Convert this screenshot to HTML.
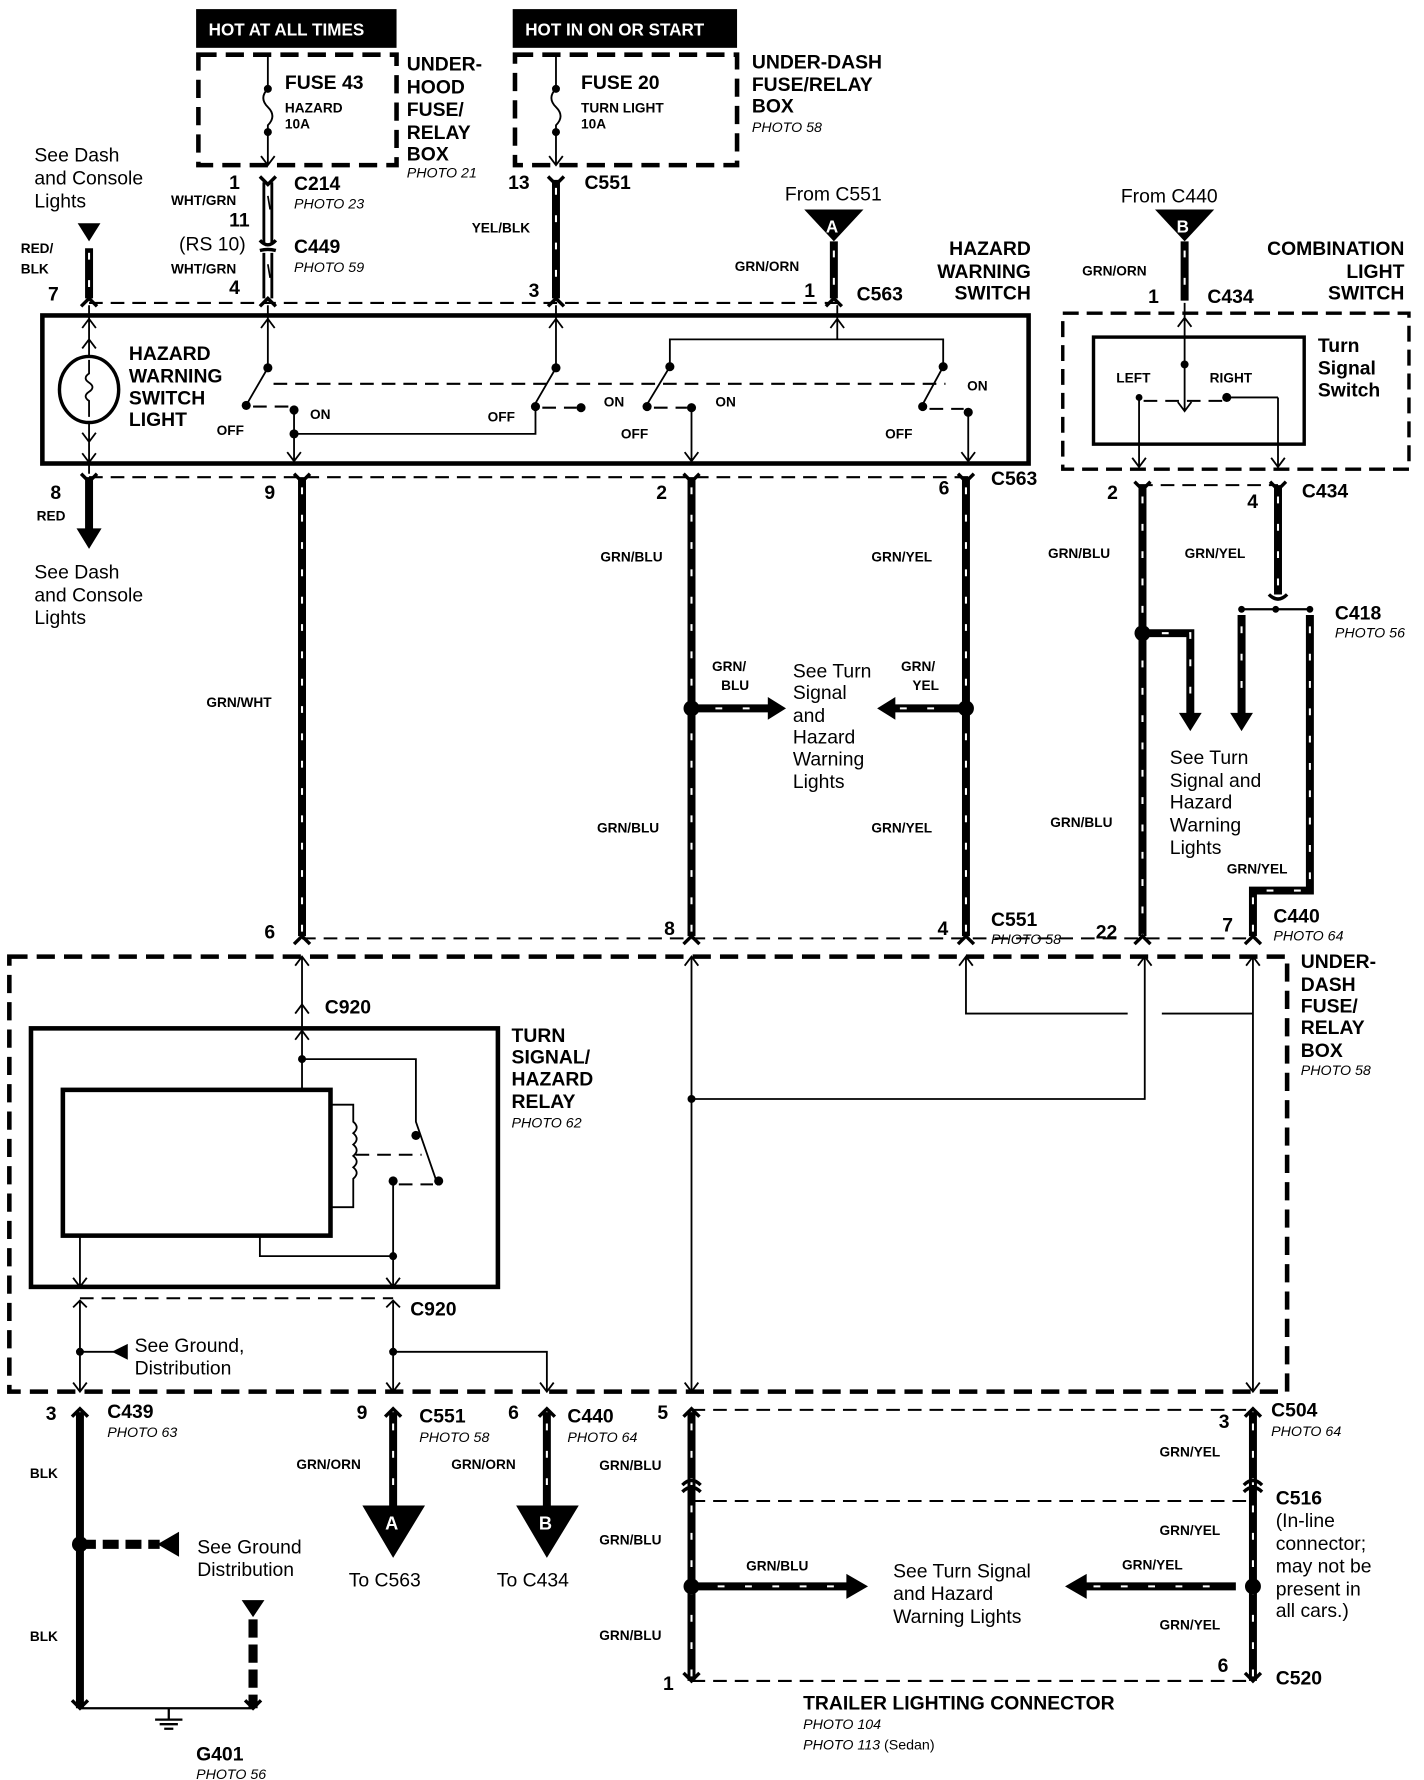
<!DOCTYPE html>
<html><head><meta charset="utf-8">
<style>
html,body{margin:0;padding:0;background:#fff;}
svg{display:block;}
text{font-family:"Liberation Sans",Arial,sans-serif;fill:#000;}
.b{font-weight:bold;font-size:17px;}
.s{font-weight:bold;font-size:12px;}
.r{font-size:17px;}
.i{font-style:italic;font-size:12.5px;}
.t{stroke:#000;stroke-width:1.6;fill:none;}
.k{stroke:#000;stroke-width:7;fill:none;}
.kd{stroke:#fff;stroke-width:1.8;fill:none;stroke-dasharray:6 18;}
.d{stroke:#000;stroke-width:1.8;fill:none;stroke-dasharray:12 7;}
.bd{stroke:#000;stroke-width:4;fill:none;stroke-dasharray:16 8;}
.cap{stroke:#000;stroke-width:3;fill:none;}
</style></head><body>
<svg width="1424" height="1780" viewBox="0 0 1250 1563" xmlns="http://www.w3.org/2000/svg">
<rect width="1250" height="1563" fill="#fff"/>
<rect x="172" y="8" width="176" height="34" fill="#000"/>
<text x="183" y="31" style="font-weight:bold;font-size:15px;fill:#fff">HOT AT ALL TIMES</text>
<rect x="450" y="8" width="197" height="34" fill="#000"/>
<text x="461" y="31" style="font-weight:bold;font-size:15px;fill:#fff">HOT IN ON OR START</text>
<rect x="174" y="48" width="174" height="97" class="bd"/>
<rect x="452" y="48" width="195" height="97" class="bd"/>
<path class="t" d="M235 48V78 q-8 8 0 16 q8 8 0 16 V145 M229 137 L235 145 L241 137"/>
<circle cx="235" cy="78" r="3.5"/><circle cx="235" cy="116" r="3.5"/>
<path class="t" d="M488 48V78 q-8 8 0 16 q8 8 0 16 V145 M482 137 L488 145 L494 137"/>
<circle cx="488" cy="78" r="3.5"/><circle cx="488" cy="116" r="3.5"/>
<text x="250" y="78" class="b">FUSE 43</text><text x="250" y="99" class="s">HAZARD</text><text x="250" y="113" class="s">10A</text>
<text x="510" y="78" class="b">FUSE 20</text><text x="510" y="99" class="s">TURN LIGHT</text><text x="510" y="113" class="s">10A</text>
<text class="b" x="357" y="62">UNDER-</text><text class="b" x="357" y="82">HOOD</text><text class="b" x="357" y="102">FUSE/</text><text class="b" x="357" y="122">RELAY</text><text class="b" x="357" y="141">BOX</text><text class="i" x="357" y="156">PHOTO 21</text>
<text class="b" x="660" y="60">UNDER-DASH</text><text class="b" x="660" y="80">FUSE/RELAY</text><text class="b" x="660" y="99">BOX</text><text class="i" x="660" y="116">PHOTO 58</text>
<text class="r" x="30" y="142">See Dash</text><text class="r" x="30" y="162">and Console</text><text class="r" x="30" y="182">Lights</text>
<!-- C214/C449 wire -->
<path d="M231.5 160V213M238.5 160V213M231.5 222V262M238.5 222V262" stroke="#000" stroke-width="2.5"/>
<path d="M235 172 l2 12 M235 232 l2 12" stroke="#000" stroke-width="1.5"/>
<path class="cap" d="M228 155 L235 162 L242 155 M228 211 q7 8 14 0 M228 220 q7 -2 14 0"/>
<text class="b" x="201" y="166">1</text><text class="s" x="150" y="180">WHT/GRN</text>
<text class="b" x="201" y="199">11</text><text class="r" x="157" y="220">(RS 10)</text>
<text class="s" x="150" y="240">WHT/GRN</text><text class="b" x="201" y="258">4</text>
<text class="b" x="258" y="167">C214</text><text class="i" x="258" y="183">PHOTO 23</text>
<text class="b" x="258" y="222">C449</text><text class="i" x="258" y="239">PHOTO 59</text>
<polygon points="68,196 88,196 78,212" fill="#000"/>
<line class="k" x1="78" y1="218" x2="78" y2="262"/><line class="kd" x1="78" y1="222" x2="78" y2="262"/>
<text class="s" x="18" y="222">RED/</text><text class="s" x="18" y="240">BLK</text><text class="b" x="42" y="264">7</text>
<line class="k" x1="488" y1="158" x2="488" y2="262"/><line class="kd" x1="488" y1="165" x2="488" y2="262"/>
<path class="cap" d="M481 155 L488 162 L495 155"/>
<text class="b" x="446" y="166">13</text><text class="b" x="513" y="166">C551</text>
<text class="s" x="414" y="204">YEL/BLK</text><text class="b" x="464" y="261">3</text>
<text class="r" x="689" y="176">From C551</text>
<polygon points="706,184 758,184 732,212" fill="#000"/><text x="725" y="204" style="font-size:15px;font-weight:bold;fill:#fff">A</text>
<line class="k" x1="732" y1="212" x2="732" y2="262"/><line class="kd" x1="732" y1="220" x2="732" y2="262"/>
<text class="s" x="645" y="238">GRN/ORN</text><text class="b" x="706" y="261">1</text><text class="b" x="752" y="264">C563</text>
<text class="b" x="905" y="224" text-anchor="end">HAZARD</text><text class="b" x="905" y="244" text-anchor="end">WARNING</text><text class="b" x="905" y="263" text-anchor="end">SWITCH</text>
<line class="d" x1="78" y1="266" x2="735" y2="266"/>
<path class="cap" d="M71 269L78 262L85 269 M228 269L235 262L242 269 M481 269L488 262L495 269 M725 269L732 262L739 269"/>
<rect x="37" y="277" width="866" height="130" fill="none" stroke="#000" stroke-width="4"/>
<path class="t" d="M78 268V312 M72 288L78 280L84 288 M72 306L78 298L84 306 M78 372V416 M72 380L78 388L84 380 M72 398L78 406L84 398"/>
<ellipse cx="78" cy="342" rx="26" ry="29" fill="none" stroke="#000" stroke-width="3"/>
<path class="t" d="M78 316 v12 q-6 4 0 8 q6 4 0 8 q-6 4 0 8 v14"/>
<text class="b" x="113" y="316">HAZARD</text><text class="b" x="113" y="336">WARNING</text><text class="b" x="113" y="355">SWITCH</text><text class="b" x="113" y="374">LIGHT</text>
<path class="t" d="M235 268V323 L217 354 M229 288L235 280L241 288"/>
<circle cx="235" cy="323" r="4"/><circle cx="216" cy="356" r="4"/><circle cx="258" cy="360" r="4"/><circle cx="258" cy="381" r="4"/>
<path class="d" d="M222 357H254"/>
<path class="t" d="M258 360V405 M252 397L258 405L264 397 M258 381H470V358"/>
<text class="s" x="190" y="382">OFF</text><text class="s" x="272" y="368">ON</text>
<path class="t" d="M488 268V323 L470 354 M482 288L488 280L494 288"/>
<circle cx="488" cy="323" r="4"/><circle cx="470" cy="357" r="4"/><circle cx="510" cy="358" r="4"/>
<path class="d" d="M476 358H506"/>
<text class="s" x="428" y="370">OFF</text><text class="s" x="530" y="357">ON</text>
<path class="t" d="M735 268V298 M729 288L735 280L741 288 M588 322V298H828V322 M588 322L568 355 M828 322L810 355"/>
<circle cx="588" cy="322" r="4"/><circle cx="568" cy="357" r="4"/><circle cx="607" cy="358" r="4"/>
<path class="d" d="M574 358H603"/>
<path class="t" d="M607 358V405 M601 397L607 405L613 397"/>
<text class="s" x="545" y="385">OFF</text><text class="s" x="628" y="357">ON</text>
<circle cx="828" cy="322" r="4"/><circle cx="810" cy="357" r="4"/><circle cx="850" cy="362" r="4"/>
<path class="d" d="M816 359H846"/>
<path class="t" d="M850 362V405 M844 397L850 405L856 397"/>
<text class="s" x="777" y="385">OFF</text><text class="s" x="849" y="343">ON</text>
<path class="d" d="M240 337H830"/>
<line class="d" x1="78" y1="419" x2="850" y2="419"/>
<path class="cap" d="M71 416L78 423L85 416 M258 416L265 423L272 416 M600 416L607 423L614 416 M841 416L848 423L855 416"/>
<text class="b" x="44" y="438">8</text><text class="s" x="32" y="457">RED</text>
<line class="k" x1="78" y1="419" x2="78" y2="466"/><polygon points="67,464 89,464 78,482" fill="#000"/>
<text class="r" x="30" y="508">See Dash</text><text class="r" x="30" y="528">and Console</text><text class="r" x="30" y="548">Lights</text>
<text class="b" x="232" y="438">9</text>
<line class="k" x1="265" y1="419" x2="265" y2="822"/><line class="kd" x1="265" y1="428" x2="265" y2="822"/>
<text class="s" x="181" y="621">GRN/WHT</text>
<text class="b" x="576" y="438">2</text>
<line class="k" x1="607" y1="419" x2="607" y2="822"/><line class="kd" x1="607" y1="428" x2="607" y2="822"/>
<text class="s" x="527" y="493">GRN/BLU</text><text class="s" x="524" y="731">GRN/BLU</text>
<circle cx="607" cy="622" r="7"/>
<line class="k" x1="607" y1="622" x2="676" y2="622"/><polygon points="674,612 690,622 674,632" fill="#000"/><line class="kd" x1="628" y1="622" x2="672" y2="622"/>
<text class="s" x="625" y="589">GRN/</text><text class="s" x="633" y="606">BLU</text>
<text class="b" x="824" y="434">6</text><text class="b" x="870" y="426">C563</text>
<line class="k" x1="848" y1="419" x2="848" y2="822"/><line class="kd" x1="848" y1="428" x2="848" y2="822"/>
<text class="s" x="765" y="493">GRN/YEL</text><text class="s" x="765" y="731">GRN/YEL</text>
<circle cx="848" cy="622" r="7"/>
<line class="k" x1="784" y1="622" x2="848" y2="622"/><polygon points="786,612 770,622 786,632" fill="#000"/><line class="kd" x1="790" y1="622" x2="830" y2="622"/>
<text class="s" x="791" y="589">GRN/</text><text class="s" x="801" y="606">YEL</text>
<text class="r" x="696" y="595">See Turn</text><text class="r" x="696" y="614">Signal</text><text class="r" x="696" y="634">and</text><text class="r" x="696" y="653">Hazard</text><text class="r" x="696" y="672">Warning</text><text class="r" x="696" y="692">Lights</text>
<line class="d" x1="265" y1="824" x2="1100" y2="824"/>
<text class="b" x="232" y="824">6</text><text class="b" x="583" y="821">8</text><text class="b" x="823" y="821">4</text>
<text class="b" x="870" y="813">C551</text><text class="i" x="870" y="829">PHOTO 58</text>
<text class="r" x="984" y="178">From C440</text>
<polygon points="1014,184 1066,184 1040,212" fill="#000"/><text x="1033" y="204" style="font-size:15px;font-weight:bold;fill:#fff">B</text>
<line class="k" x1="1040" y1="212" x2="1040" y2="264"/><line class="kd" x1="1040" y1="220" x2="1040" y2="264"/>
<text class="s" x="950" y="242">GRN/ORN</text><text class="b" x="1008" y="266">1</text><text class="b" x="1060" y="266">C434</text>
<text class="b" x="1233" y="224" text-anchor="end">COMBINATION</text><text class="b" x="1233" y="244" text-anchor="end">LIGHT</text><text class="b" x="1233" y="263" text-anchor="end">SWITCH</text>
<rect x="933" y="275" width="304" height="137" fill="none" stroke="#000" stroke-width="3" stroke-dasharray="14 7"/>
<rect x="960" y="296" width="185" height="94" fill="none" stroke="#000" stroke-width="3"/>
<text class="b" x="1157" y="309">Turn</text><text class="b" x="1157" y="329">Signal</text><text class="b" x="1157" y="348">Switch</text>
<text class="s" x="980" y="336">LEFT</text><text class="s" x="1062" y="336">RIGHT</text>
<path class="t" d="M1040 266V360 M1034 287L1040 279L1046 287 M1034 353L1040 361L1046 353"/>
<circle cx="1040" cy="320" r="3.5"/><circle cx="1077" cy="349" r="4"/><circle cx="1000" cy="349" r="3"/>
<path class="d" d="M1004 352H1073"/>
<path class="t" d="M1000 349V410 M994 402L1000 410L1006 402 M1122 349H1077 M1122 349V410 M1116 402L1122 410L1128 402"/>
<line class="d" x1="1000" y1="426" x2="1122" y2="426"/>
<path class="cap" d="M996 423L1003 430L1010 423 M1115 423L1122 430L1129 423"/>
<text class="b" x="972" y="438">2</text><text class="b" x="1095" y="446">4</text><text class="b" x="1143" y="437">C434</text>
<line class="k" x1="1003" y1="426" x2="1003" y2="822"/><line class="kd" x1="1003" y1="436" x2="1003" y2="822"/>
<line class="k" x1="1122" y1="426" x2="1122" y2="522"/><line class="kd" x1="1122" y1="436" x2="1122" y2="520"/>
<text class="s" x="920" y="490">GRN/BLU</text><text class="s" x="1040" y="490">GRN/YEL</text>
<path class="t" d="M1090 535H1150" style="stroke-width:2"/>
<circle cx="1090" cy="535" r="3"/><circle cx="1120" cy="535" r="3"/><circle cx="1150" cy="535" r="3"/>
<path class="cap" d="M1114 522 q8 8 16 0"/>
<text class="b" x="1172" y="544">C418</text><text class="i" x="1172" y="560">PHOTO 56</text>
<path class="k" d="M1150 540V782H1100V822"/><path class="kd" d="M1150 550V782H1100V822"/>
<line class="k" x1="1090" y1="540" x2="1090" y2="628"/><polygon points="1080,626 1100,626 1090,642" fill="#000"/><line class="kd" x1="1090" y1="550" x2="1090" y2="622"/>
<circle cx="1003" cy="556" r="7"/>
<path class="k" d="M1003 556H1045V628"/><polygon points="1035,626 1055,626 1045,642" fill="#000"/><path class="kd" d="M1020 556H1045V622"/>
<text class="r" x="1027" y="671">See Turn</text><text class="r" x="1027" y="691">Signal and</text><text class="r" x="1027" y="710">Hazard</text><text class="r" x="1027" y="730">Warning</text><text class="r" x="1027" y="750">Lights</text>
<text class="s" x="922" y="726">GRN/BLU</text><text class="s" x="1077" y="767">GRN/YEL</text>
<text class="b" x="1118" y="810">C440</text><text class="i" x="1118" y="826">PHOTO 64</text>
<text class="b" x="962" y="824">22</text><text class="b" x="1073" y="818">7</text>
<path class="cap" d="M258 829L265 822L272 829 M600 829L607 822L614 829 M841 829L848 822L855 829 M996 829L1003 822L1010 829 M1093 829L1100 822L1107 829"/>
<path class="bd" d="M8 840H1130V1222H8Z"/>
<text class="b" x="1142" y="850">UNDER-</text><text class="b" x="1142" y="870">DASH</text><text class="b" x="1142" y="889">FUSE/</text><text class="b" x="1142" y="908">RELAY</text><text class="b" x="1142" y="928">BOX</text><text class="i" x="1142" y="944">PHOTO 58</text>
<path class="t" d="M265 840V903 M259 848L265 840L271 848 M259 890L265 882L271 890"/>
<text class="b" x="285" y="890">C920</text>
<rect x="27" y="903" width="410" height="227" fill="none" stroke="#000" stroke-width="4"/>
<text class="b" x="449" y="915">TURN</text><text class="b" x="449" y="934">SIGNAL/</text><text class="b" x="449" y="953">HAZARD</text><text class="b" x="449" y="973">RELAY</text><text class="i" x="449" y="990">PHOTO 62</text>
<rect x="55" y="957" width="235" height="128" fill="none" stroke="#000" stroke-width="4"/>
<path class="t" d="M265 903V957 M259 913L265 905L271 913 M265 930H365V985 L383 1037 M290 970H310V985 q6 5 0 10 q6 5 0 10 q6 5 0 10 q6 5 0 10 q6 5 0 10 V1060H290 M345 1037V1130 M339 1122L345 1130L351 1122 M228 1085V1103H345 M70 1085V1130 M64 1122L70 1130L76 1122"/>
<circle cx="265" cy="930" r="3.5"/><circle cx="365" cy="997" r="4"/><circle cx="385" cy="1037" r="4"/><circle cx="345" cy="1037" r="4"/><circle cx="345" cy="1103" r="3.5"/>
<path class="d" d="M312 1014H370 M350 1040H380"/>
<path class="d" d="M70 1140H345"/>
<path class="t" d="M64 1148L70 1142L76 1148 M70 1142V1222 M64 1214L70 1222L76 1214 M339 1148L345 1142L351 1148 M345 1142V1222 M339 1214L345 1222L351 1214 M345 1187H480V1222 M474 1214L480 1222L486 1214 M70 1187H100"/>
<polygon points="112,1180 98,1187 112,1194" fill="#000"/>
<circle cx="70" cy="1187" r="3.5"/><circle cx="345" cy="1187" r="3.5"/>
<text class="b" x="360" y="1155">C920</text>
<text class="r" x="118" y="1187">See Ground,</text><text class="r" x="118" y="1207">Distribution</text>
<path class="t" d="M607 840V1222 M601 848L607 840L613 848 M601 1214L607 1222L613 1214 M607 965H1005V840 M999 848L1005 840L1011 848 M848 840V890H990 M1020 890H1100 M842 848L848 840L854 848 M1100 840V1222 M1094 848L1100 840L1106 848 M1094 1214L1100 1222L1106 1214"/>
<circle cx="607" cy="965" r="3.5"/>
<path class="cap" d="M63 1244L70 1237L77 1244 M338 1244L345 1237L352 1244 M473 1244L480 1237L487 1244 M600 1244L607 1237L614 1244 M1093 1244L1100 1237L1107 1244"/>
<text class="b" x="40" y="1247">3</text><text class="b" x="94" y="1245">C439</text><text class="i" x="94" y="1262">PHOTO 63</text>
<line class="k" x1="70" y1="1240" x2="70" y2="1500"/>
<text class="s" x="26" y="1298">BLK</text><text class="s" x="26" y="1441">BLK</text>
<circle cx="70" cy="1356" r="7"/>
<path d="M70 1356H140" stroke="#000" stroke-width="8" stroke-dasharray="14 6"/>
<polygon points="157,1345 138,1356 157,1367" fill="#000"/>
<text class="r" x="173" y="1364">See Ground</text><text class="r" x="173" y="1384">Distribution</text>
<polygon points="212,1405 232,1405 222,1420" fill="#000"/>
<path d="M222 1422V1500" stroke="#000" stroke-width="8" stroke-dasharray="16 6"/>
<path d="M70 1500H222" stroke="#000" stroke-width="2"/>
<path class="cap" d="M63 1493L70 1500L77 1493 M215 1493L222 1500L229 1493"/>
<path d="M148 1500V1510 M136 1510H160 M140 1514H156 M144 1518H152" stroke="#000" stroke-width="2"/>
<text class="b" x="172" y="1546">G401</text><text class="i" x="172" y="1562">PHOTO 56</text>
<text class="b" x="313" y="1246">9</text><text class="b" x="368" y="1249">C551</text><text class="i" x="368" y="1266">PHOTO 58</text>
<line class="k" x1="345" y1="1240" x2="345" y2="1324"/><line class="kd" x1="345" y1="1250" x2="345" y2="1322"/>
<text class="s" x="260" y="1290">GRN/ORN</text>
<polygon points="318,1322 373,1322 345,1368" fill="#000"/><text x="338" y="1343" style="font-size:16px;font-weight:bold;fill:#fff">A</text>
<text class="r" x="306" y="1393">To C563</text>
<text class="b" x="446" y="1246">6</text><text class="b" x="498" y="1249">C440</text><text class="i" x="498" y="1266">PHOTO 64</text>
<line class="k" x1="480" y1="1240" x2="480" y2="1324"/><line class="kd" x1="480" y1="1250" x2="480" y2="1322"/>
<text class="s" x="396" y="1290">GRN/ORN</text>
<polygon points="453,1322 508,1322 480,1368" fill="#000"/><text x="473" y="1343" style="font-size:16px;font-weight:bold;fill:#fff">B</text>
<text class="r" x="436" y="1393">To C434</text>
<line class="d" x1="607" y1="1238" x2="1100" y2="1238"/>
<line class="d" x1="607" y1="1318" x2="1100" y2="1318"/>
<line class="d" x1="607" y1="1476" x2="1100" y2="1476"/>
<line class="k" x1="607" y1="1240" x2="607" y2="1476"/><line class="kd" x1="607" y1="1250" x2="607" y2="1476"/>
<line class="k" x1="1100" y1="1240" x2="1100" y2="1476"/><line class="kd" x1="1100" y1="1250" x2="1100" y2="1476"/>
<path d="M599 1304 q8 -8 16 0 M599 1310 q8 -8 16 0 M1092 1304 q8 -8 16 0 M1092 1310 q8 -8 16 0" stroke="#000" stroke-width="3" fill="none"/>
<path class="cap" d="M600 1469L607 1476L614 1469 M1093 1469L1100 1476L1107 1469"/>
<text class="b" x="577" y="1246">5</text><text class="b" x="582" y="1484">1</text>
<text class="s" x="526" y="1291">GRN/BLU</text><text class="s" x="526" y="1356">GRN/BLU</text><text class="s" x="526" y="1440">GRN/BLU</text>
<circle cx="607" cy="1393" r="7"/>
<line class="k" x1="607" y1="1393" x2="745" y2="1393"/><polygon points="743,1382 762,1393 743,1404" fill="#000"/><line class="kd" x1="630" y1="1393" x2="740" y2="1393"/>
<text class="s" x="655" y="1379">GRN/BLU</text>
<text class="r" x="784" y="1385">See Turn Signal</text><text class="r" x="784" y="1405">and Hazard</text><text class="r" x="784" y="1425">Warning Lights</text>
<circle cx="1100" cy="1393" r="7"/>
<line class="k" x1="952" y1="1393" x2="1085" y2="1393"/><polygon points="954,1382 935,1393 954,1404" fill="#000"/><line class="kd" x1="960" y1="1393" x2="1080" y2="1393"/>
<text class="s" x="985" y="1378">GRN/YEL</text>
<text class="b" x="1070" y="1254">3</text><text class="b" x="1116" y="1244">C504</text><text class="i" x="1116" y="1261">PHOTO 64</text>
<text class="s" x="1018" y="1279">GRN/YEL</text><text class="s" x="1018" y="1348">GRN/YEL</text><text class="s" x="1018" y="1431">GRN/YEL</text>
<text class="b" x="1120" y="1321">C516</text>
<text class="r" x="1120" y="1341">(In-line</text><text class="r" x="1120" y="1361">connector;</text><text class="r" x="1120" y="1381">may not be</text><text class="r" x="1120" y="1401">present in</text><text class="r" x="1120" y="1420">all cars.)</text>
<text class="b" x="1069" y="1468">6</text><text class="b" x="1120" y="1479">C520</text>
<text class="b" x="705" y="1501">TRAILER LIGHTING CONNECTOR</text>
<text class="i" x="705" y="1518">PHOTO 104</text><text class="i" x="705" y="1536">PHOTO 113 <tspan style="font-style:normal">(Sedan)</tspan></text>
</svg>
</body></html>
